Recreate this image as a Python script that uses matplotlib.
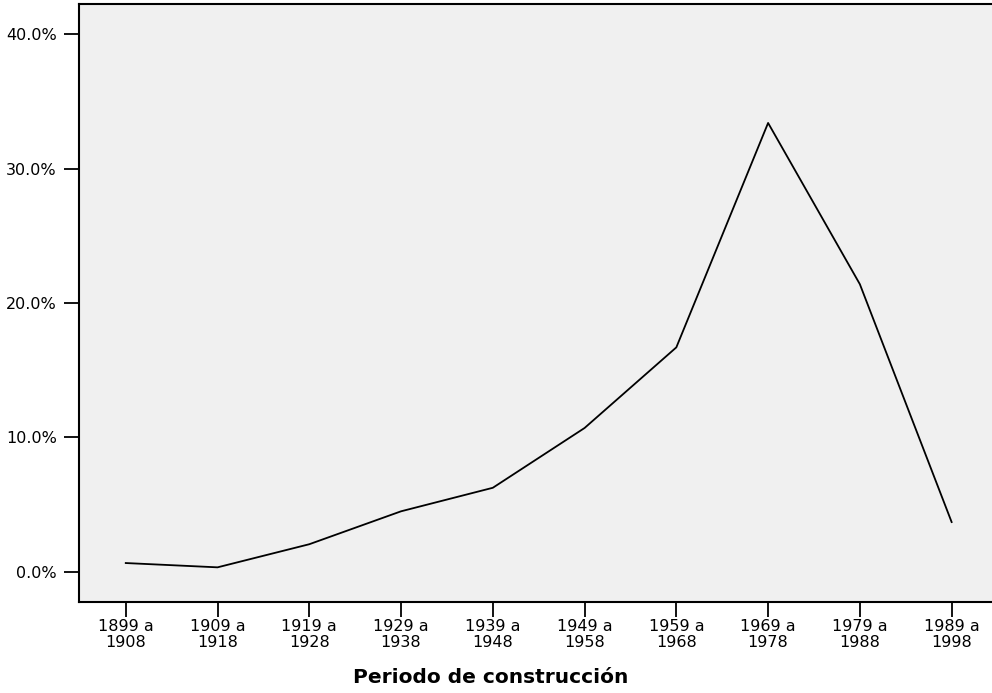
import matplotlib
matplotlib.use('Agg')
import matplotlib.pyplot as plt

# periodos de construccion y porcentaje de viviendas
periodos = ['1899 a\n1908', '1909 a\n1918', '1919 a\n1928', '1929 a\n1938', '1939 a\n1948',
            '1949 a\n1958', '1959 a\n1968', '1969 a\n1978', '1979 a\n1988', '1989 a\n1998']
porcentaje = [0.65, 0.33, 2.05, 4.5, 6.25, 10.7, 16.7, 33.4, 21.4, 3.7]
yticks = [0, 10, 20, 30, 40]

plt.rcParams['font.family'] = ['DejaVu Sans']

fig = plt.figure(figsize=(9.92, 6.93), dpi=100)
ax = fig.add_axes([0.0796, 0.1313, 0.9204, 0.8629])
ax.set_facecolor('#f0f0f0')

t = range(len(porcentaje))
ax.plot(t, porcentaje, color='black', linewidth=1.3)

ax.set_xlim(-0.51, 9.44)
ax.set_ylim(-2.25, 42.25)
ax.set_xticks(list(t))
ax.set_xticklabels(periodos, fontsize=11.5, linespacing=1.1)
ax.set_yticks(yticks)
ax.set_yticklabels(['%.1f%%' % v for v in yticks], fontsize=11.5)
ax.tick_params(direction='out', length=11, width=1.3, color='black')
ax.tick_params(axis='x', pad=1)
ax.tick_params(axis='y', pad=5)

for s in ax.spines.values():
    s.set_linewidth(1.5)
ax.spines['right'].set_visible(False)

# titulo del eje x, un poco a la izquierda del centro como en el original
fig.text(491 / 992, 10 / 693, 'Periodo de construcción', fontsize=14.5, fontweight='bold',
         ha='center', va='baseline')

fig.savefig('out.png', dpi=100)
